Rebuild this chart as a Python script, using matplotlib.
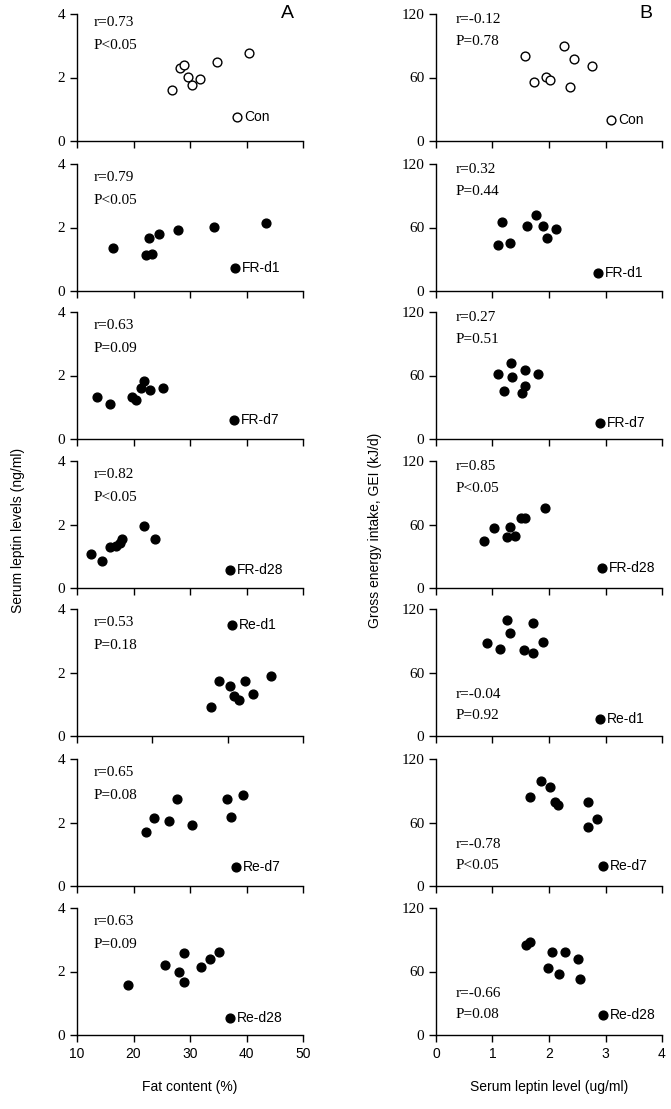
import numpy as np
import matplotlib
matplotlib.use("Agg")
import matplotlib.pyplot as plt

# groups, top to bottom
groups = ['Con', 'FR-d1', 'FR-d7', 'FR-d28', 'Re-d1', 'Re-d7', 'Re-d28']

# A: fat content (%) vs serum leptin (ng/ml)
fat_con = [26.9, 28.2, 28.9, 29.6, 30.4, 31.7, 34.7, 40.5]
lep_con = [1.60, 2.31, 2.40, 2.03, 1.77, 1.96, 2.49, 2.78]
fat_frd1 = [16.3, 22.8, 22.3, 23.2, 24.6, 27.9, 34.2, 43.5]
lep_frd1 = [1.34, 1.66, 1.12, 1.17, 1.78, 1.91, 2.01, 2.14]
fat_frd7 = [13.5, 15.8, 19.7, 20.5, 21.4, 21.9, 22.9, 25.3]
lep_frd7 = [1.33, 1.10, 1.33, 1.24, 1.61, 1.83, 1.55, 1.60]
fat_frd28 = [12.4, 14.5, 15.8, 16.9, 17.6, 17.9, 21.8, 23.8]
lep_frd28 = [1.07, 0.85, 1.28, 1.32, 1.42, 1.55, 1.95, 1.55]
fat_red1 = [33.7, 35.2, 37.0, 37.8, 38.7, 39.8, 41.1, 44.4]
lep_red1 = [0.92, 1.72, 1.57, 1.26, 1.14, 1.72, 1.32, 1.89]
fat_red7 = [22.3, 23.6, 26.3, 27.7, 30.4, 36.5, 37.2, 39.3]
lep_red7 = [1.70, 2.13, 2.05, 2.75, 1.91, 2.75, 2.18, 2.87]
fat_red28 = [19.0, 25.5, 28.0, 29.0, 29.0, 32.0, 33.5, 35.2]
lep_red28 = [1.58, 2.22, 2.00, 2.57, 1.67, 2.15, 2.38, 2.60]

# B: serum leptin (ug/ml) vs GEI (kJ/d)
sl_con = [1.57, 1.74, 1.94, 2.02, 2.27, 2.45, 2.37, 2.76]
gei_con = [80.6, 56.2, 60.3, 57.5, 90.2, 77.8, 50.8, 70.8]
sl_frd1 = [1.09, 1.16, 1.31, 1.61, 1.77, 1.89, 1.97, 2.12]
gei_frd1 = [43.5, 65.2, 45.0, 61.1, 72.1, 61.1, 50.4, 58.6]
sl_frd7 = [1.09, 1.21, 1.32, 1.34, 1.52, 1.57, 1.57, 1.80]
gei_frd7 = [61.4, 45.0, 72.1, 58.3, 43.8, 65.2, 50.4, 61.1]
sl_frd28 = [0.85, 1.02, 1.25, 1.31, 1.39, 1.51, 1.58, 1.93]
gei_frd28 = [44.2, 56.4, 48.0, 58.0, 49.5, 65.8, 65.8, 75.2]
sl_red1 = [0.90, 1.14, 1.26, 1.31, 1.56, 1.71, 1.71, 1.90]
gei_red1 = [87.5, 82.1, 109.3, 96.9, 80.8, 106.4, 78.0, 88.7]
sl_red7 = [1.67, 1.86, 2.01, 2.10, 2.16, 2.69, 2.69, 2.85]
gei_red7 = [84.3, 99.1, 93.7, 79.0, 76.5, 79.0, 55.8, 63.0]
sl_red28 = [1.60, 1.66, 1.98, 2.05, 2.18, 2.28, 2.52, 2.55]
gei_red28 = [85.0, 88.0, 63.0, 78.0, 58.0, 78.0, 72.0, 53.0]

left_x = [fat_con, fat_frd1, fat_frd7, fat_frd28, fat_red1, fat_red7, fat_red28]
left_y = [lep_con, lep_frd1, lep_frd7, lep_frd28, lep_red1, lep_red7, lep_red28]
right_x = [sl_con, sl_frd1, sl_frd7, sl_frd28, sl_red1, sl_red7, sl_red28]
right_y = [gei_con, gei_frd1, gei_frd7, gei_frd28, gei_red1, gei_red7, gei_red28]

left_r = ['r=0.73', 'r=0.79', 'r=0.63', 'r=0.82', 'r=0.53', 'r=0.65', 'r=0.63']
left_p = ['P<0.05', 'P<0.05', 'P=0.09', 'P<0.05', 'P=0.18', 'P=0.08', 'P=0.09']
right_r = ['r=-0.12', 'r=0.32', 'r=0.27', 'r=0.85', 'r=-0.04', 'r=-0.78', 'r=-0.66']
right_p = ['P=0.78', 'P=0.44', 'P=0.51', 'P<0.05', 'P=0.92', 'P<0.05', 'P=0.08']

# group key marker (data coords)
left_key = [(38.4, 0.75), (38.0, 0.72), (37.8, 0.59), (37.1, 0.57), (37.4, 3.49), (38.2, 0.61), (37.0, 0.55)]
right_key = [(3.10, 19.4), (2.87, 17.0), (2.91, 15.4), (2.94, 18.8), (2.91, 15.8), (2.95, 18.5), (2.95, 19.0)]

W, H = 671, 1109
fig = plt.figure(figsize=(W / 100, H / 100), dpi=100)

bottoms = [141, 291, 439, 588, 736, 886, 1035]
ax_h = 127
ax_w = 226
serif = 'Liberation Serif'
sans = 'Liberation Sans'


def style(ax, show_xlabels):
    for s in ['top', 'right']:
        ax.spines[s].set_visible(False)
    for s in ['left', 'bottom']:
        ax.spines[s].set_linewidth(1.0)
    ax.tick_params(direction='out', length=5, width=1.0, labelsize=11)
    for lab in ax.get_yticklabels():
        lab.set_fontfamily(serif)
    if not show_xlabels:
        ax.tick_params(axis='x', labelbottom=False)
    else:
        for lab in ax.get_xticklabels():
            lab.set_fontfamily(sans)
            lab.set_fontsize(10)


for i, g in enumerate(groups):
    last = i == len(groups) - 1
    y0 = 1 - bottoms[i] / H
    hollow = (g == 'Con')
    face = 'white' if hollow else 'black'

    # left column
    axl = fig.add_axes([77 / W, y0, ax_w / W, ax_h / H])
    axl.scatter(left_x[i], left_y[i], s=40, facecolors=face, edgecolors='black',
                linewidths=1.0, clip_on=False, zorder=3)
    kx, ky = left_key[i]
    axl.scatter([kx], [ky], s=40, facecolors=face, edgecolors='black', linewidths=1.0, zorder=3)
    axl.annotate(g, (kx, ky), xytext=(5, 0), textcoords='offset points',
                 va='center', ha='left', fontsize=10, family=sans)
    axl.set_xlim(10, 50)
    axl.set_ylim(0, 4)
    axl.set_yticks([0, 2, 4])
    if g == 'Re-d1':
        axl.set_xticks(np.linspace(10, 50, 4))
    else:
        axl.set_xticks([10, 20, 30, 40, 50])
    ly = (0.93, 0.75) if i == 0 else (0.89, 0.71)
    axl.text(0.075, ly[0], left_r[i], transform=axl.transAxes, fontsize=11,
             family=serif, va='center', ha='left')
    axl.text(0.075, ly[1], left_p[i], transform=axl.transAxes, fontsize=11,
             family=serif, va='center', ha='left')
    style(axl, last)

    # right column
    axr = fig.add_axes([436 / W, y0, ax_w / W, ax_h / H])
    axr.scatter(right_x[i], right_y[i], s=40, facecolors=face, edgecolors='black',
                linewidths=1.0, clip_on=False, zorder=3)
    kx, ky = right_key[i]
    axr.scatter([kx], [ky], s=40, facecolors=face, edgecolors='black', linewidths=1.0, zorder=3)
    axr.annotate(g, (kx, ky), xytext=(5, 0), textcoords='offset points',
                 va='center', ha='left', fontsize=10, family=sans)
    axr.set_xlim(0, 4)
    axr.set_ylim(0, 120)
    axr.set_yticks([0, 60, 120])
    axr.set_xticks([0, 1, 2, 3, 4])
    if g in ('Re-d1', 'Re-d7', 'Re-d28'):
        ry, py = 0.33, 0.16
    else:
        ry, py = 0.96, 0.78
    axr.text(0.085, ry, right_r[i], transform=axr.transAxes, fontsize=11,
             family=serif, va='center', ha='left')
    axr.text(0.085, py, right_p[i], transform=axr.transAxes, fontsize=11,
             family=serif, va='center', ha='left')
    style(axr, last)

    if i == 0:
        axl.text(0.93, 1.0, 'A', transform=axl.transAxes, fontsize=14, family=sans,
                 ha='center', va='center')
        axr.text(0.93, 1.0, 'B', transform=axr.transAxes, fontsize=14, family=sans,
                 ha='center', va='center')
    if last:
        axl.set_xlabel('Fat content (%)', fontsize=10, family=sans, labelpad=14)
        axr.set_xlabel('Serum leptin level (ug/ml)', fontsize=10, family=sans, labelpad=14)

fig.text(18 / W, 1 - 530 / H, 'Serum leptin levels (ng/ml)', rotation=90,
         fontsize=10, family=sans, ha='center', va='center')
fig.text(375 / W, 1 - 530 / H, 'Gross energy intake, GEI (kJ/d)', rotation=90,
         fontsize=10, family=sans, ha='center', va='center')

fig.savefig('out.png', dpi=100)
